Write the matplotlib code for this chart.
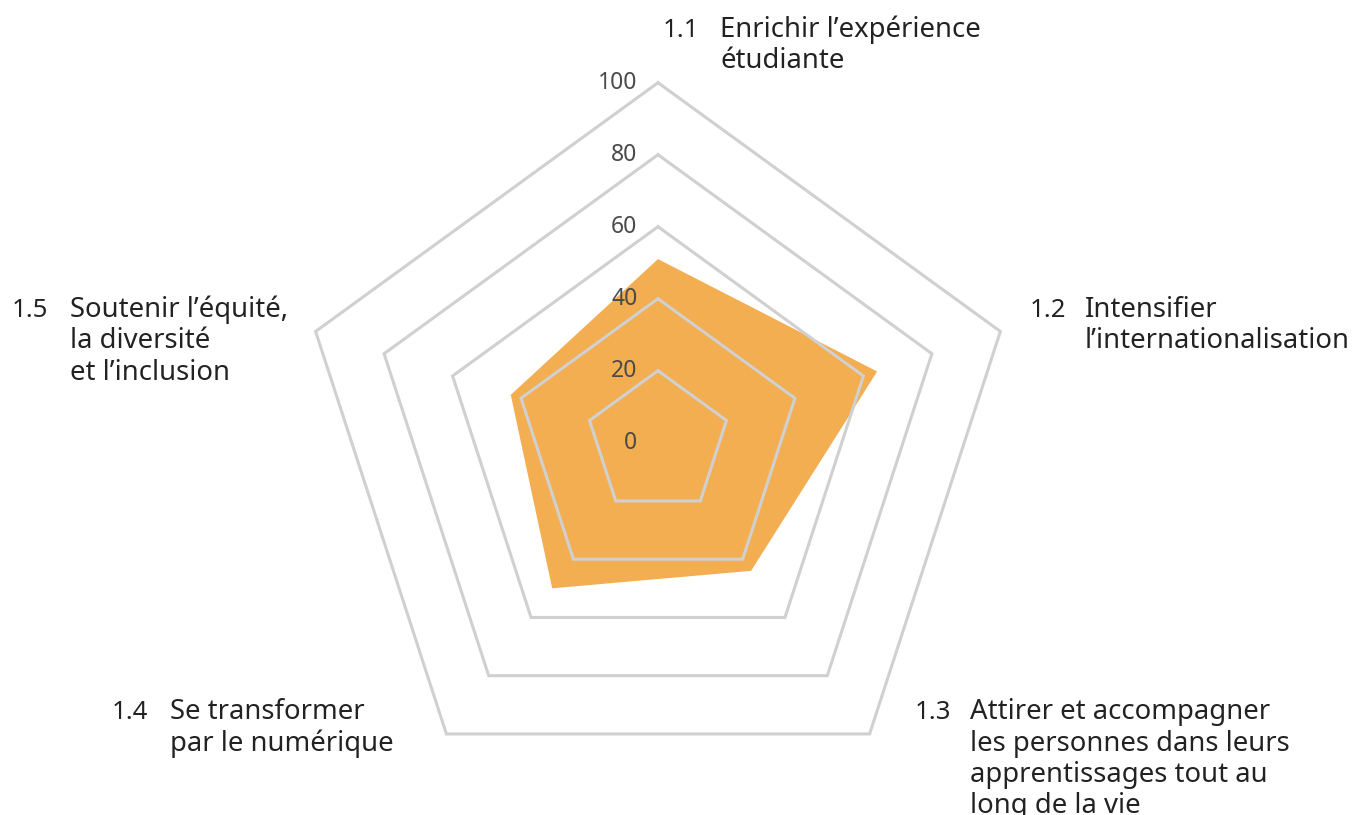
import numpy as np
import matplotlib
matplotlib.use("Agg")
import matplotlib.pyplot as plt

# ---- data ----
axis_numbers = ["1.1", "1.2", "1.3", "1.4", "1.5"]
axis_labels = [
    ["Enrichir l’expérience", "étudiante"],
    ["Intensifier", "l’internationalisation"],
    ["Attirer et accompagner", "les personnes dans leurs", "apprentissages tout au", "long de la vie"],
    ["Se transformer", "par le numérique"],
    ["Soutenir l’équité,", "la diversité", "et l’inclusion"],
]
values = [51, 64, 44, 50, 43]
grid_levels = [20, 40, 60, 80, 100]
tick_labels = ["0", "20", "40", "60", "80", "100"]
tick_values = [0, 20, 40, 60, 80, 100]

# ---- style ----
W, H = 1358, 815
FILL = "#F2AE50"
GRID = "#D0D0D0"
TXT = "#222222"
TICK = "#4a4a4a"
FONT = "Noto Sans"
plt.rcParams["font.family"] = [FONT, "DejaVu Sans"]

fig = plt.figure(figsize=(W / 100, H / 100), dpi=100)
ax = fig.add_axes([0, 0, 1, 1])
ax.set_axis_off()

cx_px, cy_px = 658.0, 442.7   # centre in pixels (from top)
scale = 3.6                   # pixels per unit
ax.set_xlim(-cx_px / scale, (W - cx_px) / scale)
ax.set_ylim(-(H - cy_px) / scale, cy_px / scale)
ax.set_aspect("equal")

n = len(values)
angles = np.deg2rad(90 - 72 * np.arange(n))

def poly(r):
    r = np.asarray(r, dtype=float)
    x = r * np.cos(angles)
    y = r * np.sin(angles)
    return np.append(x, x[0]), np.append(y, y[0])

# data polygon
xs, ys = poly(values)
ax.fill(xs, ys, color=FILL, lw=0, zorder=1)

# grid pentagons
for g in grid_levels:
    gx, gy = poly([g] * n)
    ax.plot(gx, gy, color=GRID, lw=2.2, zorder=2, solid_joinstyle="miter")

# tick labels
for tv, tl in zip(tick_values, tick_labels):
    t = ax.text(-5.7, tv, tl, ha="right", va="center", fontsize=16.5,
                color=TICK, zorder=3)

# axis labels (pixel positions)
def ptext(x, y, s, **kw):
    fig.text(x / W, 1 - y / H, s, **kw)

label_pos = [
    (663, 720, [37, 68]),
    (1030, 1085, [317, 348]),
    (915, 970, [719, 751, 782, 813]),
    (112, 170, [719, 751]),
    (12, 70, [317, 348, 380]),
]
for num, lines, (xn, xt, bases) in zip(axis_numbers, axis_labels, label_pos):
    ptext(xn, bases[0], num, fontsize=18.5, color=TXT, va="baseline", ha="left")
    for line, b in zip(lines, bases):
        ptext(xt, b, line, fontsize=19.8, color=TXT, va="baseline", ha="left")

fig.savefig("out.png", dpi=100)
